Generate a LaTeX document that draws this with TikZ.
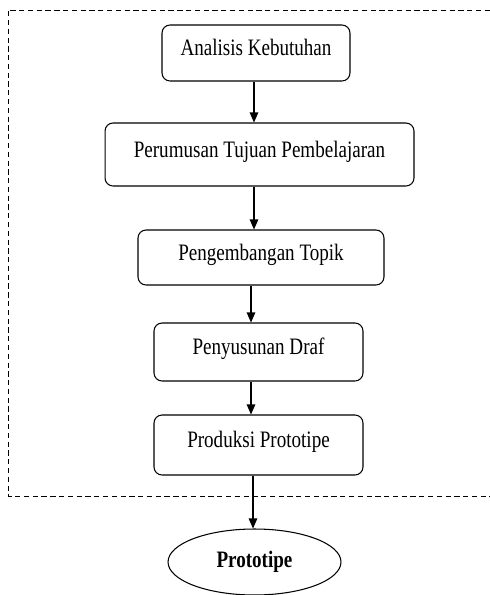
\documentclass[tikz,border=0pt]{standalone}
\usepackage{fontspec}
\setmainfont{Liberation Serif}[FakeStretch=0.81]
\usetikzlibrary{arrows.meta,shapes.geometric}

\tikzset{
    stage/.style={draw, rounded corners=0.16cm, line width=0.6pt,
        font=\fontsize{13.4}{16}\selectfont, text height=0.32cm, text depth=0.22cm},
    goal/.style={draw, ellipse, line width=0.6pt, inner sep=0pt,
        font=\fontsize{13.4}{16}\selectfont\bfseries},
    flow/.style={line width=0.6pt, -{Triangle[length=0.2cm,width=0.17cm]}},
    frame/.style={dashed, dash pattern=on 3pt off 2pt, line width=0.5pt}
}

\begin{document}
\begin{tikzpicture}[x=0.02cm, y=-0.02cm]
    \useasboundingbox (0,0) rectangle (490,595);
    \draw[frame] (490,10) -- (8,10) -- (8,496) -- (490,496);

    \node[stage, minimum width=3.76cm, minimum height=1.12cm] (need) at (256,53) {Analisis Kebutuhan};
    \node[stage, minimum width=6.18cm, minimum height=1.26cm] (aims) at (259.5,154.5) {Perumusan Tujuan Pembelajaran};
    \node[stage, minimum width=4.92cm, minimum height=1.1cm] (topic) at (261,257.5) {Pengembangan Topik};
    \node[stage, minimum width=4.18cm, minimum height=1.16cm] (draft) at (258.5,352) {Penyusunan Draf};
    \node[stage, minimum width=4.18cm, minimum height=1.2cm] (prod) at (258.5,445) {Produksi Prototipe};
    \node[goal, minimum width=3.46cm, minimum height=1.32cm] (proto) at (254.5,562) {Prototipe};

    \draw[flow] ([xshift=-0.04cm]need.south) -- ([xshift=-0.04cm]need.south |- aims.north);
    \draw[flow] ([xshift=-0.11cm]aims.south) -- ([xshift=-0.11cm]aims.south |- topic.north);
    \draw[flow] ([xshift=-0.2cm]topic.south) -- ([xshift=-0.2cm]topic.south |- draft.north);
    \draw[flow] ([xshift=-0.15cm]draft.south) -- ([xshift=-0.15cm]draft.south |- prod.north);
    \draw[flow] ([xshift=-0.11cm]prod.south) -- ([xshift=-0.11cm]prod.south |- proto.north);

\end{tikzpicture}
\end{document}
